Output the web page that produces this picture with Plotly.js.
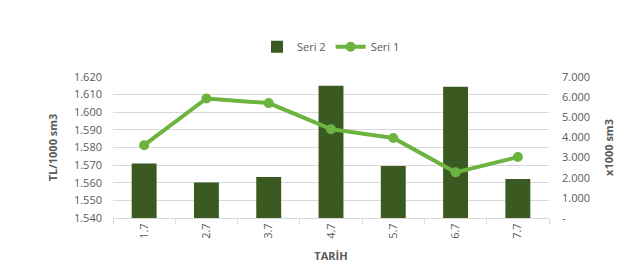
<!DOCTYPE html>
<html>
<head>
<meta charset="utf-8">
<script src="https://cdn.plot.ly/plotly-3.0.1.min.js"></script>
<style>html,body{margin:0;padding:0;background:#fff;}#chart{width:638px;height:273px;}</style>
</head>
<body>
<div id="chart"></div>
<script>
const categories = ["1.7", "2.7", "3.7", "4.7", "5.7", "6.7", "7.7"];
const seri2 = [2710, 1765, 2030, 6565, 2577, 6515, 1930];
const seri1 = [1.5813, 1.6078, 1.6052, 1.5904, 1.5854, 1.5659, 1.5746];
const leftTicks = [1.54, 1.55, 1.56, 1.57, 1.58, 1.59, 1.60, 1.61, 1.62];
const leftTickText = ["1.540", "1.550", "1.560", "1.570", "1.580", "1.590", "1.600", "1.610", "1.620"];
const rightTicks = [0, 1000, 2000, 3000, 4000, 5000, 6000, 7000];
const rightTickText = ["-", "1.000", "2.000", "3.000", "4.000", "5.000", "6.000", "7.000"];

const font = {family: "Open Sans, Noto Sans, sans-serif", size: 11, color: "#595959"};

const traces = [
  {
    type: "bar", name: "Seri 2", x: categories, y: seri2, yaxis: "y",
    marker: {color: "#3a5a22"}
  },
  {
    type: "scatter", mode: "lines+markers", name: "Seri 1", x: categories, y: seri1, yaxis: "y2",
    line: {color: "#6cb33f", width: 4},
    marker: {color: "#6cb33f", size: 10}
  }
];

const layout = {
  width: 638, height: 273,
  margin: {l: 113, r: 89, t: 77, b: 55},
  paper_bgcolor: "#fff", plot_bgcolor: "#fff",
  font: font,
  bargap: 0.6,
  showlegend: true,
  legend: {orientation: "h", x: 0.5, xanchor: "center", y: 1.215, yanchor: "middle",
           font: {family: font.family, size: 11, color: "#595959"}, traceorder: "normal",
           itemwidth: 30, tracegroupgap: 0},
  xaxis: {
    type: "category",
    tickangle: -90,
    showgrid: false,
    showline: true, linecolor: "#d9d9d9", linewidth: 1,
    ticks: "outside", tickson: "boundaries", ticklen: 5, tickcolor: "#d9d9d9",
    tickfont: {size: 11, color: "#595959"},
    title: {text: "<b>TARİH</b>", font: {size: 11, color: "#595959"}, standoff: 14}
  },
  yaxis: {
    side: "right",
    range: [0, 7000],
    tickvals: rightTicks, ticktext: rightTickText,
    showgrid: false, zeroline: false, showline: false,
    ticklabelstandoff: 12,
    tickfont: {size: 11, color: "#595959"},
    title: {text: "<b>x1000 sm3</b>", font: {size: 11, color: "#595959"}, standoff: 16}
  },
  yaxis2: {
    overlaying: "y", side: "left",
    range: [1.54, 1.62],
    tickvals: leftTicks, ticktext: leftTickText,
    showgrid: true, gridcolor: "#d9d9d9", gridwidth: 1,
    zeroline: false, showline: false,
    ticklabelstandoff: 10,
    tickfont: {size: 11, color: "#595959"},
    title: {text: "<b>TL/1000 sm3</b>", font: {size: 11, color: "#595959"}, standoff: 14}
  }
};

Plotly.newPlot("chart", traces, layout, {displayModeBar: false, staticPlot: true});
</script>
</body>
</html>
